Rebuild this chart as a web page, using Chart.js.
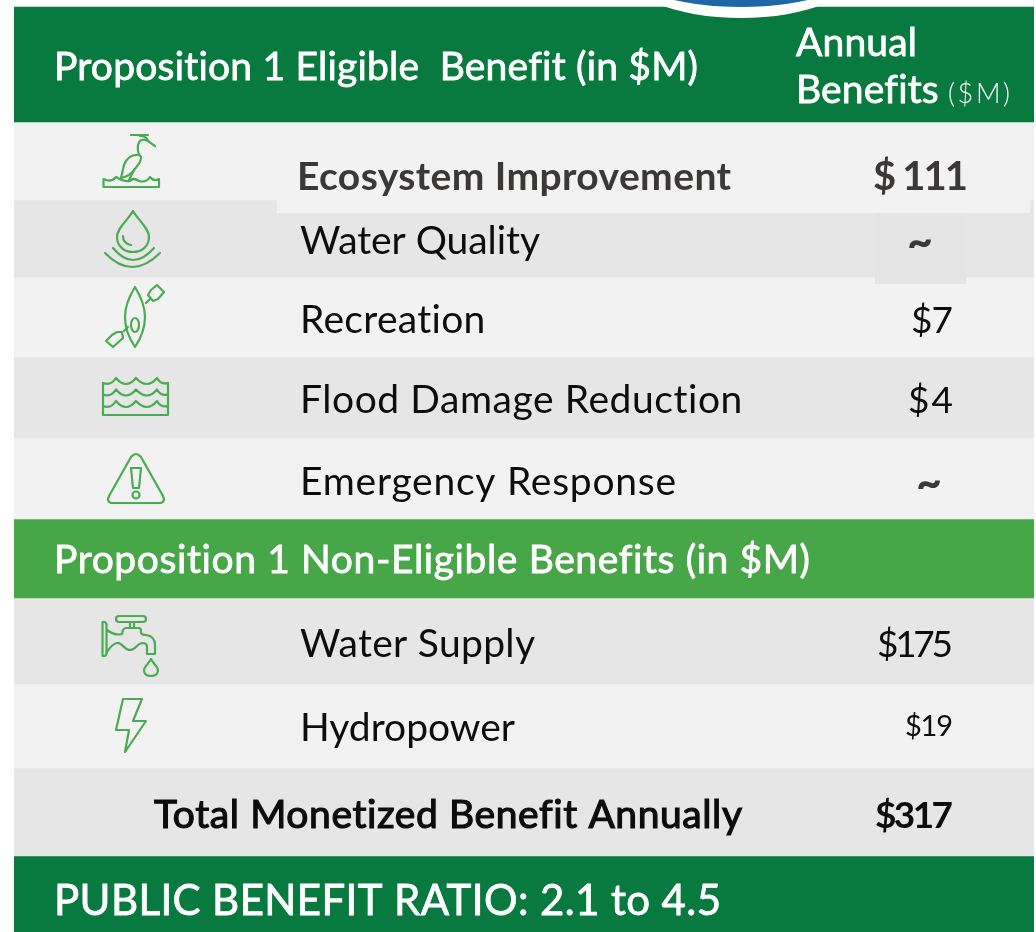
<!DOCTYPE html>
<html>
<head>
<meta charset="utf-8">
<script src="https://cdn.jsdelivr.net/npm/chart.js@4/dist/chart.umd.min.js"></script>
<style>
  html, body { margin: 0; padding: 0; background: #fff; }
  canvas { display: block; }
</style>
</head>
<body>
<canvas id="benefits" width="1036" height="932"></canvas>
<script>
// table content
const eligibleTitle = "Proposition 1 Eligible  Benefit (in $M)";
const columnTitle = ["Annual", "Benefits", "($M)"];
const eligibleRows = ["Ecosystem Improvement", "Water Quality", "Recreation", "Flood Damage Reduction", "Emergency Response"];
const eligibleValues = [111, null, 7, 4, null];
const nonEligibleTitle = "Proposition 1 Non-Eligible Benefits (in $M)";
const nonEligibleRows = ["Water Supply", "Hydropower"];
const nonEligibleValues = [175, 19];
const totalLabel = "Total Monetized Benefit Annually";
const totalValue = 317;
const ratioLabel = "PUBLIC BENEFIT RATIO: 2.1 to 4.5";

const DARK = "#08793f", MID = "#46a648", LIGHT = "#f2f2f2", GREY = "#e6e6e6", ICON = "#4bab52";
const BODY = "Lato, sans-serif";

// bands top to bottom: [top, bottom, colour]
const bands = [
  [7, 122, DARK], [122, 200, LIGHT], [200, 277, GREY], [277, 357, LIGHT], [357, 438, GREY], [438, 519, LIGHT],
  [519, 598, MID], [598, 684, GREY], [684, 768, LIGHT], [768, 856, GREY], [856, 932, DARK]
];

function money(v) { return v === null ? "~" : "$" + v; }

// icons are traced line art, one list of svg paths per row
const icons = [
  ["M103.5 179 V187 H159 V179 Q154 182 150 177 Q146 183 139 181 Q133 177 130 181 Q124 182 116 177 Q111 183 103.5 179",
   "M131 135 H148", "M140 136 Q147 136 148 141 L155 146", "M148 141 Q140 137 138 145 Q137 153 141 157 Q142 161 134 170 L129 180",
   "M139 155 Q128 154 124 165 L121 178 Q130 176 134 170"],
  ["M133 211 C128 220 117 228 117 237 C117 246 124 252 133 252 C142 252 149 246 149 237 C149 228 138 220 133 211Z",
   "M123 236 C123 241 126 244 131 245", "M105 253 Q132 281 160 253", "M113 248 Q133 272 154 248"],
  ["M135 287 C127 300 125 310 125 317 C125 326 129 338 135 347 C141 338 145 326 145 317 C145 310 143 300 135 287Z",
   "M139 325 A4 7 0 1 1 131 325 A4 7 0 1 1 139 325Z",
   "M157 285 L164 292 L158 299 L153 301 L148 295 L151 290Z", "M122 332 L123 338 L113 347 L106 341 L112 335 L117 332Z",
   "M146 303 L150 299", "M124 331 L128 327"],
  ["M103 383 V415 H168 V383", "M103 383 Q111 386 116 378 Q126 390 136 378 Q147 390 157 378 Q161 385 168 383",
   "M103 394.5 Q111 397.5 116 389.5 Q126 401.5 136 389.5 Q147 401.5 157 389.5 Q161 396.5 168 394.5",
   "M103 406 Q111 409 116 401 Q126 413 136 401 Q147 413 157 401 Q161 408 168 406"],
  ["M131 457 Q136 451 141 457 L163 496 Q166 503 159 503 L113 503 Q106 503 109 496Z",
   "M131 468 H141 L139 488 H133Z", "M139.5 495 A3.5 3.5 0 1 1 132.5 495 A3.5 3.5 0 1 1 139.5 495Z"],
  ["M102.5 622 H105 L106.5 624 V654 L105 656 H102.5Z", "M119 616 H143 A3 3 0 0 1 143 622 H119 A3 3 0 0 1 119 616Z", "M130 622 V628 M134 622 V628",
   "M107 630 Q115 636 122 634 L123 630 Q124 628 126 628 H139 Q141 628 141 631 V633 Q142 635 146 635 Q155 636 155 645 V654 H147 V647 Q147 643 142 643 C136 644 136 650 130 650 C124 650 122 642 117 643 Q112 644 107 652",
   "M151 659 C149 663 144 667 144 670 C144 674 147 676 151 676 C155 676 158 674 158 670 C158 667 153 663 151 659Z"],
  ["M123 699 H142 L133 721 H146 L125 752 L129 730 H116Z"]
];

// stretches the text between left and right; bolder adds a thin outline for medium weight
function fitText(ctx, text, font, color, left, right, baseline, bolder) {
  ctx.font = font;
  ctx.fillStyle = color;
  ctx.letterSpacing = "0px";
  const w = ctx.measureText(text).width;
  ctx.letterSpacing = ((right - left - w) / (text.length - 1)) + "px";
  ctx.textAlign = "left";
  ctx.textBaseline = "alphabetic";
  ctx.fillText(text, left, baseline);
  if (bolder) {
    ctx.strokeStyle = color;
    ctx.lineWidth = bolder;
    ctx.strokeText(text, left, baseline);
  }
  ctx.letterSpacing = "0px";
}

const tablePlugin = {
  id: "tablePlugin",
  afterDatasetsDraw(chart) {
    const ctx = chart.ctx;
    const centre = i => chart.getDatasetMeta(i).data[0].getCenterPoint().y;
    const W = "#ffffff";
    ctx.save();

    // pasted patches that overlap the neighbouring rows, and the logo edge at the top
    ctx.fillStyle = LIGHT;
    ctx.fillRect(277, 143, 753, 70);
    ctx.fillStyle = "#e4e4e4";
    ctx.fillRect(875, 213, 91, 71);
    ctx.fillStyle = W;
    ctx.beginPath();
    ctx.ellipse(741, -32, 120, 50, 0, 0, Math.PI * 2);
    ctx.fill();
    ctx.fillStyle = "#1f66a8";
    ctx.beginPath();
    ctx.ellipse(741, -33, 118, 40, 0, 0, Math.PI * 2);
    ctx.fill();

    // section titles
    const hF = "400 39px " + BODY;
    fitText(ctx, eligibleTitle, hF, W, 54, 698, centre(0) + 15, 0.8);
    fitText(ctx, columnTitle[0], hF, W, 796, 917, centre(0) - 8.5, 0.8);
    fitText(ctx, columnTitle[1], hF, W, 796, 938, centre(0) + 38.5, 0.8);
    fitText(ctx, columnTitle[2], "300 27px " + BODY, W, 948, 1010, centre(0) + 38.5);
    fitText(ctx, nonEligibleTitle, hF, W, 54, 810, centre(6) + 14.5, 0.8);
    fitText(ctx, ratioLabel, "400 42px " + BODY, W, 54, 721, centre(10) + 21, 0.8);

    // row text
    const txt = "400 39px " + BODY, ink = "#0d0d0d";
    fitText(ctx, eligibleRows[0], "700 39px " + BODY, "#3b3838", 297, 731, centre(1) + 29);
    fitText(ctx, eligibleRows[1], txt, ink, 300, 540, centre(2) + 15.5);
    fitText(ctx, eligibleRows[2], txt, ink, 300, 486, centre(3) + 16);
    fitText(ctx, eligibleRows[3], txt, ink, 300, 743, centre(4) + 15.5);
    fitText(ctx, eligibleRows[4], txt, ink, 300, 676, centre(5) + 16.5);
    fitText(ctx, nonEligibleRows[0], txt, ink, 300, 535, centre(7) + 16);
    fitText(ctx, nonEligibleRows[1], txt, ink, 300, 515, centre(8) + 15);
    fitText(ctx, totalLabel, "400 39px " + BODY, ink, 154, 742, centre(9) + 16, 1.2);

    // value column
    const num = "400 37px " + BODY;
    fitText(ctx, "$ " + eligibleValues[0], "700 40px " + BODY, "#3b3838", 873, 968, centre(1) + 29);
    fitText(ctx, money(eligibleValues[2]), num, ink, 911, 953, centre(3) + 16);
    fitText(ctx, money(eligibleValues[3]), num, ink, 908, 953, centre(4) + 15.5);
    fitText(ctx, money(nonEligibleValues[0]), num, ink, 877, 953, centre(7) + 16);
    fitText(ctx, money(nonEligibleValues[1]), "400 29px " + BODY, ink, 905, 953, centre(8) + 10);
    fitText(ctx, money(totalValue), "700 37px " + BODY, ink, 875, 953, centre(9) + 16);
    ctx.font = "900 44px " + BODY;
    ctx.fillStyle = "#3b3838";
    ctx.textAlign = "center";
    ctx.fillText(money(eligibleValues[1]), 920, centre(2) + 18);
    ctx.fillText(money(eligibleValues[4]), 929, centre(5) + 19);

    // icons
    ctx.strokeStyle = ICON;
    ctx.lineWidth = 2.2;
    ctx.lineJoin = "round";
    ctx.lineCap = "round";
    icons.forEach(parts => parts.forEach(d => ctx.stroke(new Path2D(d))));
    ctx.restore();
  }
};

new Chart(document.getElementById("benefits"), {
  type: "bar",
  data: {
    labels: ["Annual Benefits"],
    datasets: bands.map(b => ({
      data: [[b[0], b[1]]],
      backgroundColor: b[2],
      borderWidth: 0,
      barPercentage: 1,
      categoryPercentage: 1,
      grouped: false
    }))
  },
  options: {
    responsive: false,
    animation: false,
    layout: { padding: { left: 14, right: 2, top: 0, bottom: 0 } },
    plugins: { legend: { display: false }, tooltip: { enabled: false }, title: { display: false } },
    scales: {
      x: { display: false },
      y: { display: false, reverse: true, min: 0, max: 932 }
    }
  },
  plugins: [tablePlugin]
});
</script>
</body>
</html>
